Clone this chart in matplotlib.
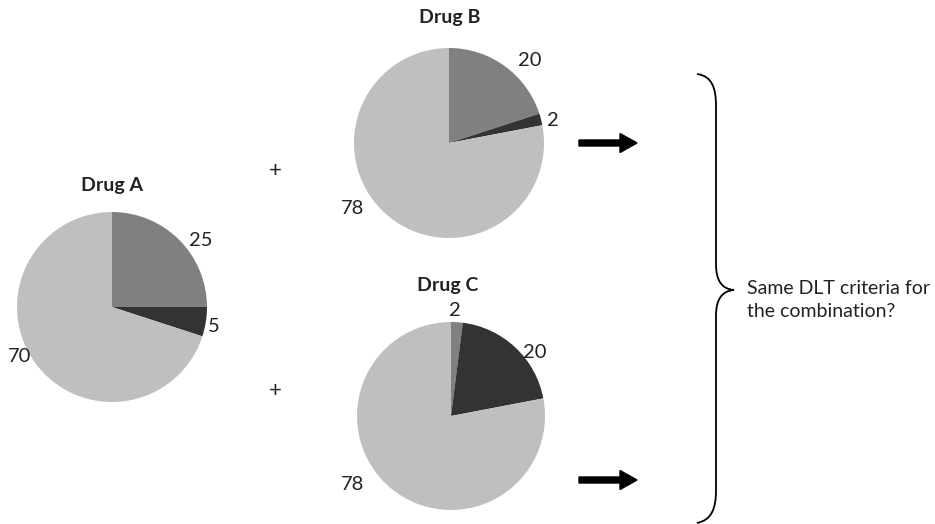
import matplotlib.pyplot as plt
from matplotlib.path import Path
from matplotlib.patches import PathPatch

# данные
drugs = ['Drug A', 'Drug B', 'Drug C']
values_a = [25, 5, 70]
values_b = [20, 2, 78]
values_c = [2, 20, 78]
slice_colors = ['#808080', '#333333', '#bfbfbf']
note_text = 'Same DLT criteria for\nthe combination?'

W, H = 935, 524
plt.rcParams['font.family'] = ['Lato', 'DejaVu Sans']

fig = plt.figure(figsize=(W / 100, H / 100), dpi=100)
ax = fig.add_axes([0, 0, 1, 1])
ax.set_xlim(0, W)
ax.set_ylim(0, H)
ax.set_aspect('equal')
ax.axis('off')


def Y(y):
    # пиксели сверху вниз -> координаты осей
    return H - y


# центр, радиус, позиция заголовка, позиции подписей
pies = [
    (values_a, (112, 307), 95, (112, 185), [(201, 240), (214, 326), (20, 356)]),
    (values_b, (449, 143), 95, (450, 18), [(530, 60), (553, 120), (353, 209)]),
    (values_c, (451, 416), 94, (448, 285), [(455, 310), (535, 352), (353, 484)]),
]

for name, (vals, c, r, tpos, lpos) in zip(drugs, pies):
    wedges, texts = ax.pie(vals, colors=slice_colors, startangle=90, counterclock=False,
                           center=(c[0], Y(c[1])), radius=r, labels=[str(v) for v in vals],
                           wedgeprops=dict(linewidth=0), textprops=dict(fontsize=14.5, color='#222222'))
    for t, p in zip(texts, lpos):
        t.set_position((p[0], Y(p[1])))
        t.set_ha('center')
        t.set_va('center')
    ax.text(tpos[0], Y(tpos[1]), name, ha='center', va='center', fontsize=14,
            fontweight='bold', color='#222222')

ax.set_xlim(0, W)
ax.set_ylim(0, H)

# плюсы
for yy in (171, 391):
    ax.text(275, Y(yy), '+', ha='center', va='center', fontsize=16, color='#222222')

# стрелки
for yy in (143, 480):
    ax.arrow(579, Y(yy), 58, 0, width=6, head_width=19, head_length=17,
             length_includes_head=True, color='black')

# фигурная скобка
pts = [(697, 74), (712, 76), (716, 88), (716, 106),
       (716, 264),
       (716, 281), (722, 289), (734, 290),
       (722, 291), (716, 299), (716, 316),
       (716, 490),
       (716, 508), (712, 520), (697, 523)]
codes = [Path.MOVETO, Path.CURVE4, Path.CURVE4, Path.CURVE4,
         Path.LINETO,
         Path.CURVE4, Path.CURVE4, Path.CURVE4,
         Path.CURVE4, Path.CURVE4, Path.CURVE4,
         Path.LINETO,
         Path.CURVE4, Path.CURVE4, Path.CURVE4]
brace = Path([(x, Y(y)) for x, y in pts], codes)
ax.add_patch(PathPatch(brace, fill=False, lw=1.3, edgecolor='black'))

ax.text(747, Y(300), note_text, ha='left', va='center', fontsize=14,
        color='#222222', linespacing=1.4)

fig.savefig('out.png', dpi=100)
